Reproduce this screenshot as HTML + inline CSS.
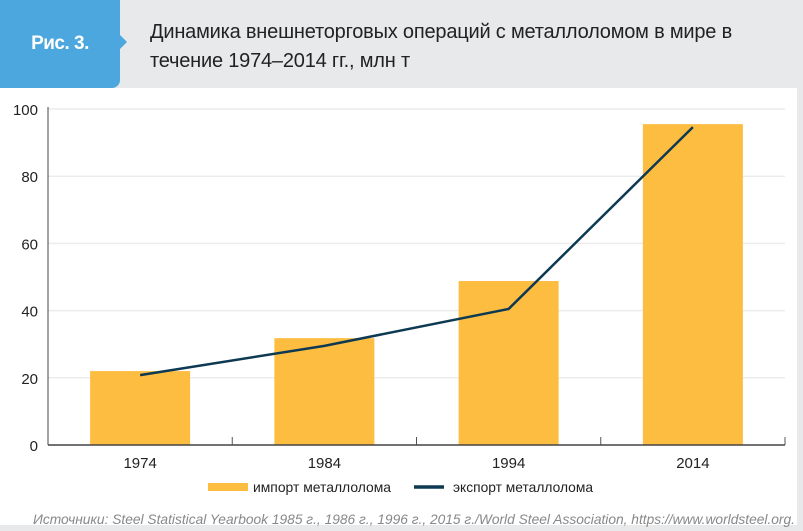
<!DOCTYPE html>
<html><head><meta charset="utf-8"><style>
body{margin:0;width:803px;height:531px;background:#e8e9eb;font-family:"Liberation Sans",sans-serif;overflow:hidden;position:relative}
#panel{position:absolute;left:0;top:88px;width:797px;height:437px;background:#fff}
#tab{position:absolute;left:0;top:0;width:120px;height:88px;background:#4ba7dd;border-bottom-right-radius:8px;color:#fff;font-weight:bold;font-size:19px;line-height:88px;text-align:center;letter-spacing:-0.5px}
#tab:after{content:"";position:absolute;right:-7px;top:35px;border-left:7px solid #4ba7dd;border-top:7px solid transparent;border-bottom:7px solid transparent}
#title{position:absolute;left:150px;top:18px;font-size:20px;line-height:29px;color:#222;letter-spacing:-0.2px}
svg{position:absolute;left:0;top:0}
</style></head><body>
<div id="panel"></div>
<div id="tab">Рис. 3.</div>
<div id="title">Динамика внешнеторговых операций с металлоломом в мире в<br>течение 1974–2014 гг., млн т</div>
<svg id="c" width="803" height="531"></svg>
<script>
const categories=["1974","1984","1994","2014"];
const importValues=[22,31.8,48.8,95.5];
const exportValues=[20.8,29.5,40.5,94.6];
const yTicks=[0,20,40,60,80,100];
const svg=document.getElementById('c');const NS="http://www.w3.org/2000/svg";
const L=48,R=785,B=445,T=109,maxV=100;
const y=v=>B-(B-T)*v/maxV;const bw=(R-L)/categories.length;const xc=i=>L+bw*(i+0.5);
function el(t,a,txt){const e=document.createElementNS(NS,t);for(const k in a)e.setAttribute(k,a[k]);if(txt!==undefined)e.textContent=txt;svg.appendChild(e);return e;}
yTicks.forEach(v=>{if(v>0){const g=el('line',{x1:L,x2:R,y1:y(v),y2:y(v),stroke:'#ececec','stroke-width':1.5});

}
const t=el('text',{x:38,y:y(v)+6,'text-anchor':'end','font-size':15,fill:'#222'},v);

});
categories.forEach((c,i)=>{const b=el('rect',{x:xc(i)-50,y:y(importValues[i]),width:100,height:B-y(importValues[i]),fill:'#fdbd41'});


const t=el('text',{x:xc(i),y:468,'text-anchor':'middle','font-size':15,fill:'#222'},c);

});
for(let i=0;i<=categories.length;i++){const tk=el('line',{x1:L+bw*i,x2:L+bw*i,y1:B-8,y2:B,stroke:'#555'});

}
const ax=el('line',{x1:L,x2:R,y1:B,y2:B,stroke:'#444','stroke-width':1.5});


const ay=el('line',{x1:L,x2:L,y1:T-2,y2:B,stroke:'#444','stroke-width':1});


const ln=el('polyline',{points:exportValues.map((v,i)=>xc(i)+','+y(v)).join(' '),fill:'none',stroke:'#0d3a52','stroke-width':2.5});


const l1=el('rect',{x:208,y:483,width:40,height:8,fill:'#fdbd41'});


const l2=el('text',{x:253,y:492,'font-size':14,fill:'#222',textLength:138,lengthAdjust:'spacingAndGlyphs'},'импорт металлолома');


const l3=el('line',{x1:414,x2:444,y1:487,y2:487,stroke:'#0d3a52','stroke-width':3.5});


const l4=el('text',{x:453,y:492,'font-size':14,fill:'#222',textLength:140,lengthAdjust:'spacingAndGlyphs'},'экспорт металлолома');


const s=el('text',{x:33,y:524,'font-size':14,'font-style':'italic',fill:'#888',textLength:762,lengthAdjust:'spacingAndGlyphs'},'Источники: Steel Statistical Yearbook 1985 г., 1986 г., 1996 г., 2015 г./World Steel Association, https://www.worldsteel.org.');


</script>
</body></html>
